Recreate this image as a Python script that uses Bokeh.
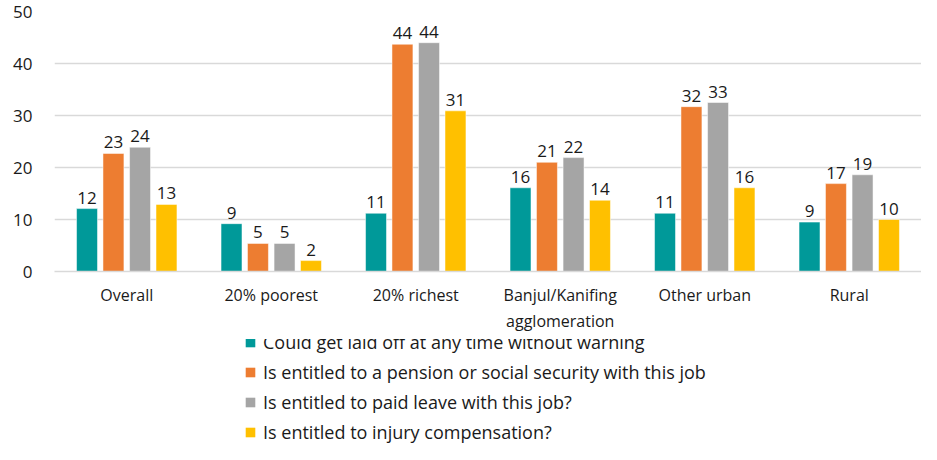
from bokeh.plotting import figure
from bokeh.layouts import column
from bokeh.models import ColumnDataSource, FactorRange, Range1d, Legend, LegendItem, FixedTicker
from bokeh.transform import dodge
from bokeh.core.properties import value
from bokeh.embed import file_html
from bokeh.resources import INLINE

categories = ["Overall", "20% poorest", "20% richest", "Banjul/Kanifing\nagglomeration", "Other urban", "Rural"]
laid_off = [12.1, 9.2, 11.2, 16.1, 11.2, 9.5]
pension = [22.7, 5.4, 43.7, 21.0, 31.7, 16.9]
paid_leave = [23.9, 5.4, 44.0, 21.9, 32.5, 18.6]
injury = [12.9, 2.1, 30.9, 13.7, 16.1, 10.0]
labels_laid_off = ["12", "9", "11", "16", "11", "9"]
labels_pension = ["23", "5", "44", "21", "32", "17"]
labels_paid_leave = ["24", "5", "44", "22", "33", "19"]
labels_injury = ["13", "2", "31", "14", "16", "10"]
series_names = [
    "Could get laid off at any time without warning",
    "Is entitled to a pension or social security with this job",
    "Is entitled to paid leave with this job?",
    "Is entitled to injury compensation?",
]
y_ticks = [0, 10, 20, 30, 40, 50]

colors = ["#009999", "#ED7D31", "#A5A5A5", "#FFC000"]
offsets = [-0.275, -0.092, 0.092, 0.275]
FONT = "Open Sans"
TXT = "#1a1a1a"

p = figure(
    frame_width=867, frame_height=260,
    x_range=FactorRange(*categories),
    y_range=Range1d(0, 50),
    output_backend="svg", toolbar_location=None,
    min_border_left=54, min_border_right=0, min_border_top=11, min_border_bottom=68,
)
p.outline_line_color = None
p.background_fill_color = "white"

series = [
    (laid_off, labels_laid_off),
    (pension, labels_pension),
    (paid_leave, labels_paid_leave),
    (injury, labels_injury),
]
for i, (vals, labs) in enumerate(series):
    src = ColumnDataSource(dict(cat=categories, val=vals, lab=labs))
    p.vbar(x=dodge("cat", offsets[i], range=p.x_range), top="val", width=0.145,
           source=src, fill_color=colors[i], line_color="white", line_width=0.5)
    p.text(x=dodge("cat", offsets[i], range=p.x_range), y="val", text="lab", source=src,
           text_align="center", text_baseline="bottom", y_offset=-5,
           text_font=value(FONT), text_font_size="17px", text_color=TXT)

p.xgrid.grid_line_color = None
p.ygrid.grid_line_color = "#d9d9d9"
p.ygrid.grid_line_width = 1.5
p.yaxis.ticker = FixedTicker(ticks=y_ticks)
p.yaxis.axis_line_color = None
p.yaxis.major_tick_line_color = None
p.yaxis.minor_tick_line_color = None
p.yaxis.major_label_standoff = 16
p.yaxis.major_label_text_font = FONT
p.yaxis.major_label_text_font_size = "17px"
p.yaxis.major_label_text_color = TXT

p.xaxis.axis_line_color = "#d9d9d9"
p.xaxis.axis_line_width = 1.5
p.xaxis.major_tick_line_color = None
p.xaxis.minor_tick_line_color = None
p.xaxis.major_label_standoff = 6
p.xaxis.major_label_text_font = FONT
p.xaxis.major_label_text_font_size = "16px"
p.xaxis.major_label_text_color = TXT

# legend figure below the chart
q = figure(width=921, height=105, output_backend="svg", toolbar_location=None,
           x_range=Range1d(0, 1), y_range=Range1d(0, 1),
           x_axis_location=None, y_axis_location=None,
           min_border_left=0, min_border_right=0, min_border_top=0, min_border_bottom=0)
q.outline_line_color = None
q.xgrid.grid_line_color = None
q.ygrid.grid_line_color = None
items = []
for i in range(4):
    r = q.vbar(x=[0.5], top=[0], bottom=[0], width=0.1, fill_color=colors[i], line_color=None)
    items.append(LegendItem(label=series_names[i], renderers=[r]))
legend = Legend(items=items, location=(190, 0), orientation="vertical",
                border_line_alpha=0, background_fill_alpha=0,
                label_text_font=FONT, label_text_font_size="18px", label_text_color=TXT,
                glyph_width=12, glyph_height=12, label_height=21, label_standoff=7,
                spacing=6, padding=0, margin=0)
q.add_layout(legend, "center")

layout = column(p, q, spacing=0)
open("out.html", "w").write(file_html(layout, INLINE))
